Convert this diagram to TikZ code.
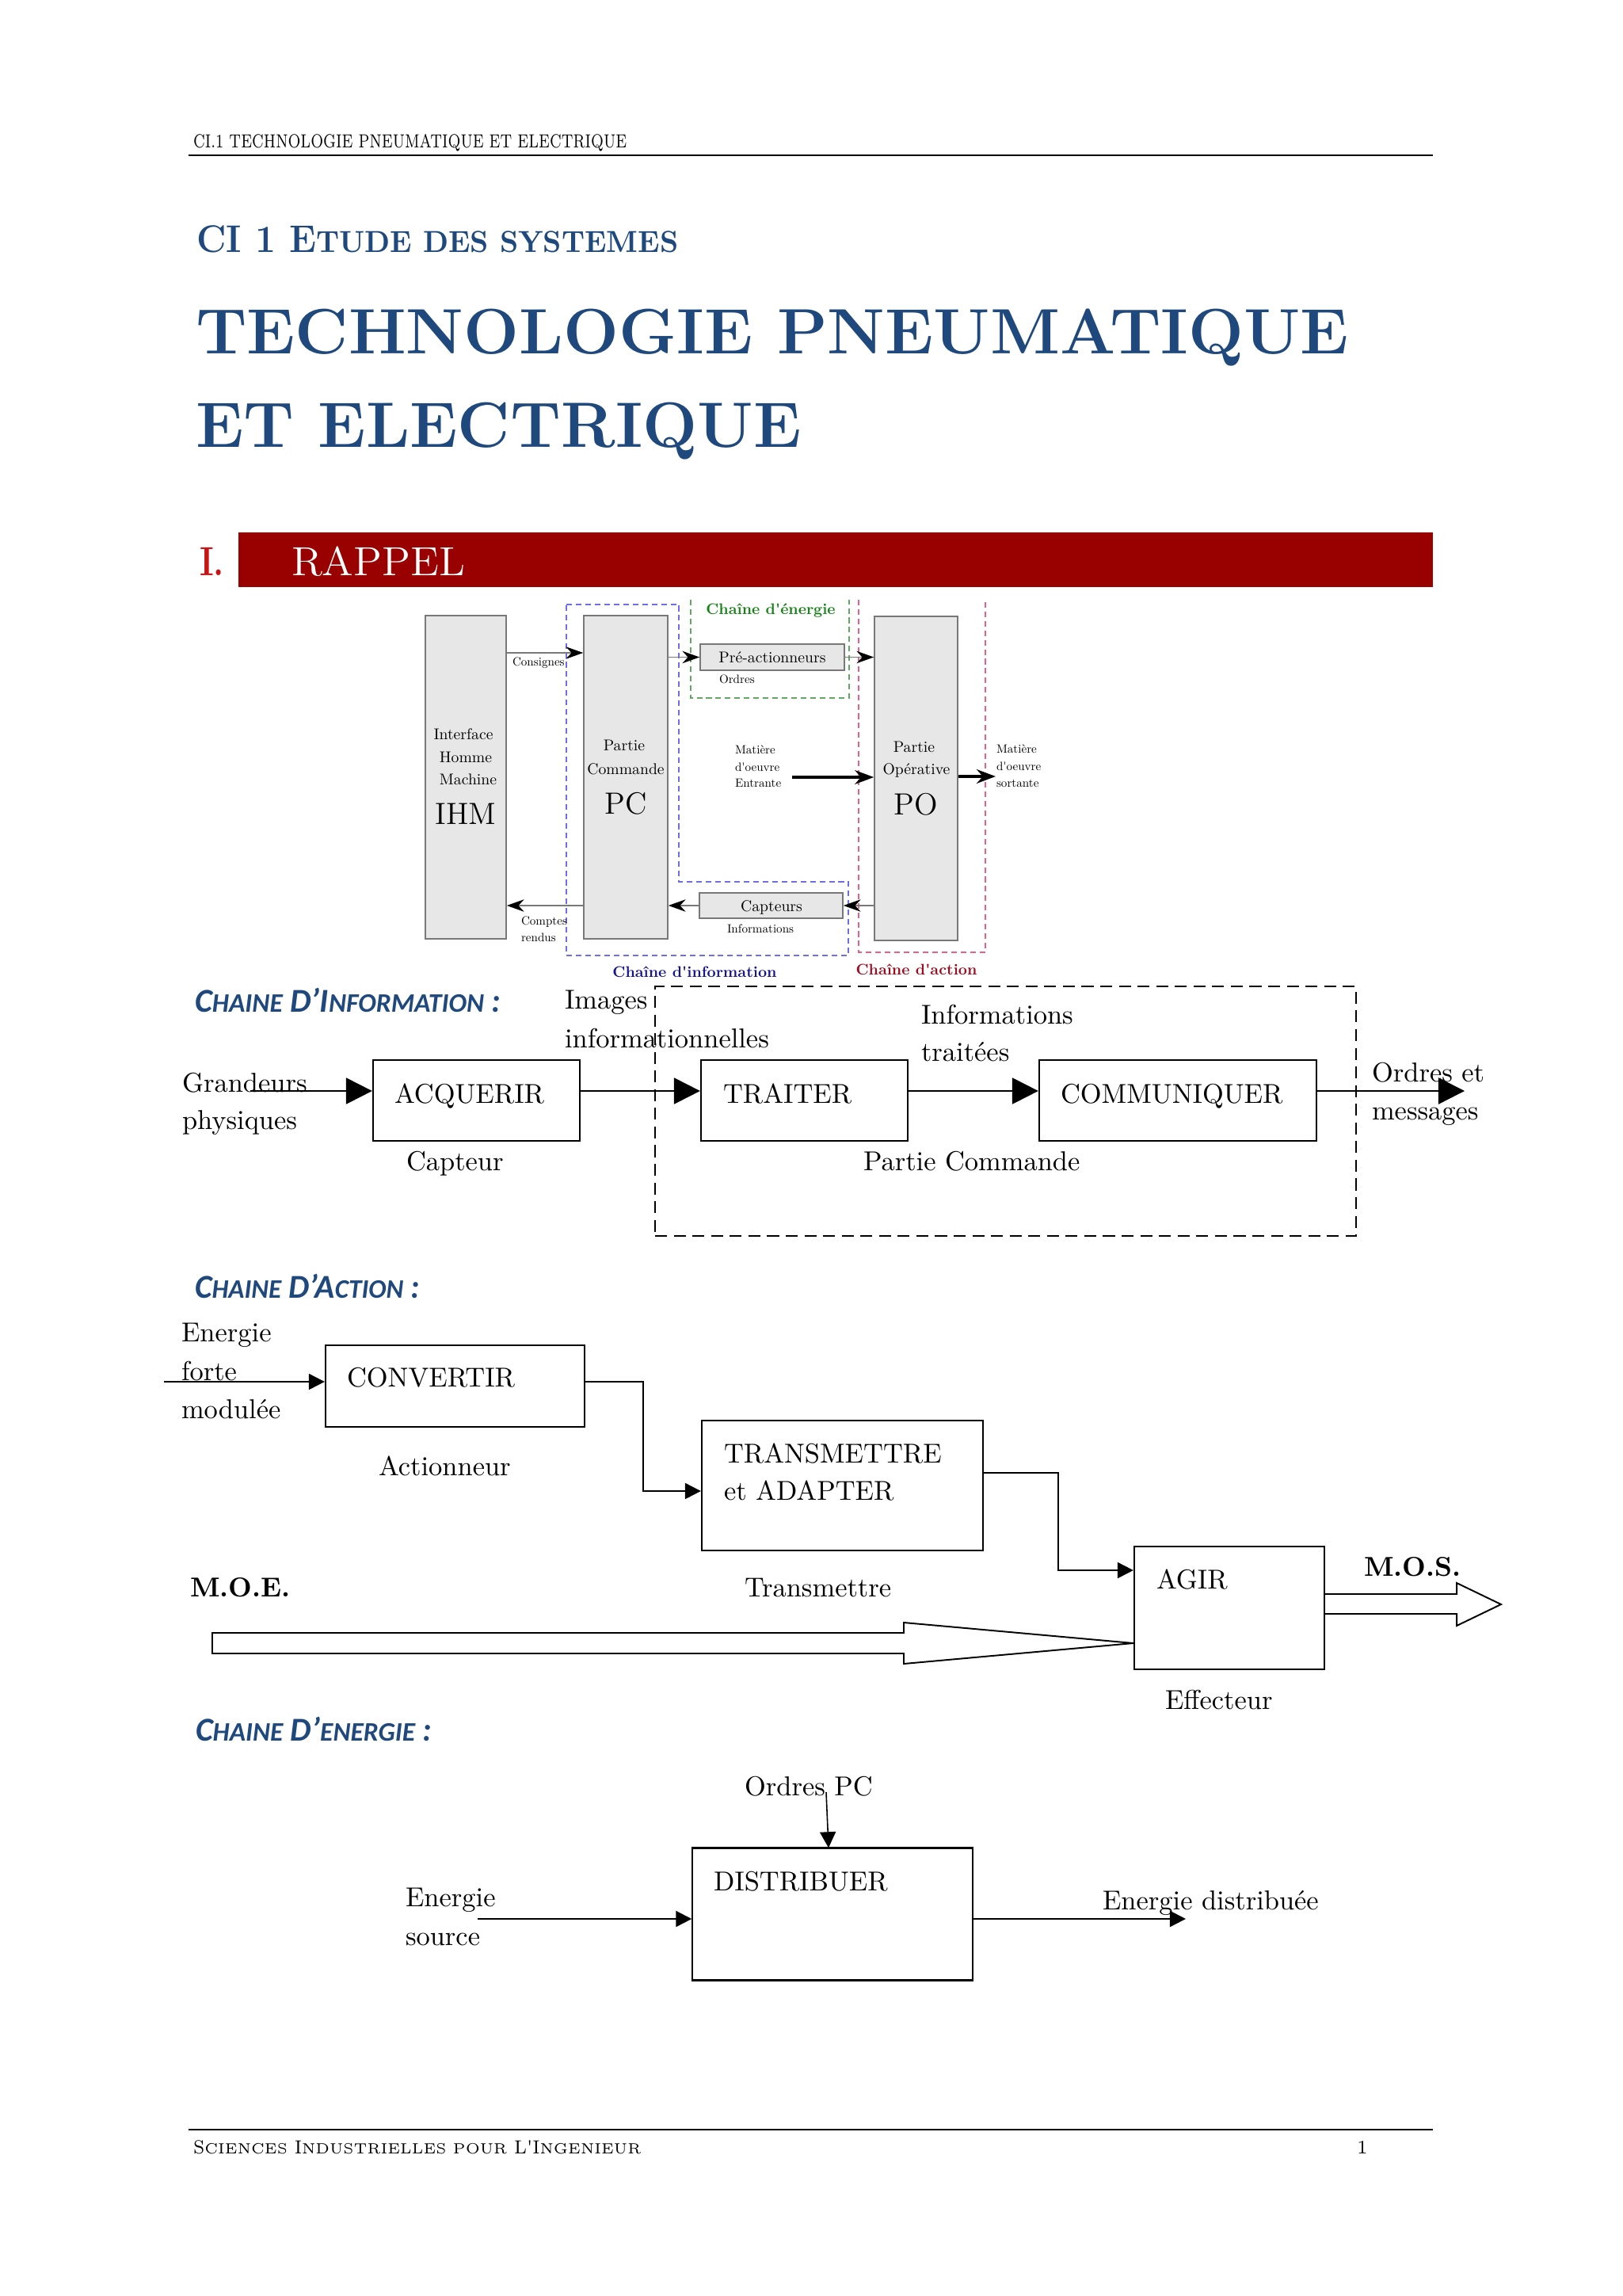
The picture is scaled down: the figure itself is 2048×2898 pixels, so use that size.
\documentclass[tikz,border=0pt]{standalone}
\usepackage{fontspec}
\newfontfamily\carlito{Carlito}
\usetikzlibrary{arrows.meta,fit,calc}
\definecolor{tblue}{RGB}{31,73,125}
\definecolor{barred}{RGB}{153,0,0}
\definecolor{numred}{RGB}{200,20,20}
\definecolor{boxgray}{RGB}{231,231,231}
\definecolor{edgegray}{RGB}{120,120,120}
\definecolor{dblue}{RGB}{110,110,235}
\definecolor{dgreen}{RGB}{95,170,95}
\definecolor{dpink}{RGB}{235,95,135}
\definecolor{capblue}{RGB}{20,20,140}
\definecolor{capgreen}{RGB}{20,130,20}
\definecolor{capred}{RGB}{160,10,30}
\newcommand\smA[1]{{\fontsize{9.6}{10}\selectfont #1}}
\newcommand\smT[1]{{\fontsize{10.9}{12}\selectfont #1}}
\newcommand\smF[1]{{\fontsize{5.3}{6}\selectfont #1}}
\newcommand\bt{\fontsize{9.8}{12}\selectfont}
\newcommand\sm[1]{\scalebox{0.56}{#1}}
\newcommand\ti[1]{\scalebox{0.43}{#1}}
\newcommand\cc[1]{\scalebox{0.55}{#1}}
\newcommand\q{\textquotesingle}
\begin{document}
\begin{tikzpicture}[x=0.01cm,y=-0.01cm,
  txt/.style={inner sep=0,outer sep=0,anchor=base west,font=\bt},
  gbox/.style={draw=edgegray,fill=boxgray,line width=0.45pt,inner sep=0},
  blk/.style={draw,line width=0.65pt,inner sep=0},
  dsh/.style={line width=0.35pt,dash pattern=on 2pt off 1.4pt},
  garr/.style={draw=edgegray,line width=0.45pt,-{Stealth[length=6.2pt,width=4.4pt,color=black]}},
  tarr/.style={line width=1.3pt,-{Stealth[length=6.8pt,width=5pt]}},
  bigarr/.style={line width=0.65pt,-{Triangle[length=9.4pt,width=9.4pt]}},
  arr/.style={line width=0.6pt,-{Triangle[length=5.7pt,width=5.7pt]}},
  head/.style={inner sep=0,outer sep=0,anchor=base west,text=tblue,font=\carlito\bfseries\itshape\fontsize{12}{14}\selectfont},
  tiny/.style={inner sep=0,outer sep=0,anchor=base west,font=\fontsize{10}{12}\selectfont},
  small/.style={inner sep=0,outer sep=0,anchor=base,font=\fontsize{10}{12}\selectfont},
  big/.style={inner sep=0,outer sep=0,anchor=base,font=\fontsize{11}{13}\selectfont},
  chcap/.style={inner sep=0,outer sep=0,anchor=base,font=\fontsize{10}{12}\selectfont\bfseries}
]
\path[use as bounding box,fill=white] (0,0) rectangle (2048,2898);

% ---------- header ----------
\node[txt,font=\fontsize{6.8}{8}\selectfont] (hdr) at (244,187) {\resizebox{5.47cm}{\height}{CI.1 TECHNOLOGIE PNEUMATIQUE ET ELECTRIQUE}};
\draw[line width=0.8pt] (238,196) -- (1809,196);

% ---------- titles ----------
\node[txt,text=tblue,font=\fontsize{13.8}{16}\selectfont\bfseries] (ci) at (248,319) {\resizebox{6.08cm}{\height}{CI 1 E\smT{TUDE DES SYSTEMES}}};
\node[txt,text=tblue,font=\fontsize{23}{26}\selectfont\bfseries] (t1) at (247,447) {\resizebox{14.55cm}{\height}{TECHNOLOGIE PNEUMATIQUE}};
\node[txt,text=tblue,font=\fontsize{23}{26}\selectfont\bfseries] (t2) at (247,565) {\resizebox{7.64cm}{\height}{ET ELECTRIQUE}};

% ---------- section bar ----------
\node[fill=barred,inner sep=0,fit={(301,672) (1809,741)}] (bar) {};
\node[txt,text=numred,font=\fontsize{14.6}{16}\selectfont\bfseries] (num) at (252,727) {\resizebox{0.31cm}{\height}{I.}};
\node[txt,text=white,font=\fontsize{14.6}{16}\selectfont] (rap) at (368,727) {\resizebox{2.19cm}{\height}{RAPPEL}};

% ---------- top diagram ----------
\draw[dblue,dsh] (715,763) -- (857,763) -- (857,1113) -- (1071,1113) -- (1071,1206) -- (715,1206) -- cycle;
\draw[dgreen,dsh] (872,757) -- (872,881) -- (1072,881) -- (1072,757);
\draw[dpink,dsh] (1084,757) -- (1084,1202) -- (1244,1202) -- (1244,757);

\node[gbox,fit={(537,777) (639,1185)}] (ihm) {};
\node[gbox,fit={(737,777) (843,1185)}] (pc) {};
\node[gbox,fit={(1104,778) (1209,1187)}] (po) {};
\node[gbox,fit={(884,813) (1066,846)}] (pre) {};
\node[gbox,fit={(883,1127) (1064,1159)}] (cap) {};

\draw[garr] (ihm.east |- 0,824) -- (pc.west |- 0,824);
\draw[garr] (pc.east |- pre.west) -- (pre.west);
\draw[garr] (pre.east) -- (po.west |- pre.east);
\draw[garr] (po.west |- cap.east) -- (cap.east);
\draw[garr] (cap.west) -- (pc.east |- cap.west);
\draw[garr] (pc.west |- cap.west) -- (ihm.east |- cap.west);
\coordinate (mein) at (1000,981);
\coordinate (meout) at (1257,980);
\draw[tarr] (mein) -- (po.west |- mein);
\draw[tarr] (po.east |- meout) -- (meout);

\node[small] (ihm1) at (585,933) {\sm{Interface}};
\node[small] (ihm2) at (588,962) {\sm{Homme}};
\node[small] (ihm3) at (591,990) {\sm{Machine}};
\node[big] (ihm4) at (588,1040) {IHM};
\node[small] (pc1) at (788,948) {\sm{Partie}};
\node[small] (pc2) at (790,977) {\sm{Commande}};
\node[big] (pc3) at (790,1027) {PC};
\node[small] (po1) at (1154,949) {\sm{Partie}};
\node[small] (po2) at (1157,977) {\sm{Opérative}};
\node[big] (po3) at (1156,1028) {PO};
\node[small] (pre1) at (975,837) {\sm{Pré-actionneurs}};
\node[small] (cap1) at (974,1150) {\sm{Capteurs}};
\node[tiny] (ord) at (908,863) {\ti{Ordres}};
\node[tiny] (inf) at (918,1177) {\ti{Informations}};
\node[tiny] (cons) at (647,841) {\ti{Consignes}};
\node[tiny] (cr1) at (658,1167) {\ti{Comptes}};
\node[tiny] (cr2) at (658,1188) {\ti{rendus}};
\node[tiny] (mi1) at (928,952) {\ti{Matière}};
\node[tiny] (mi2) at (928,973) {\ti{d\q oeuvre}};
\node[tiny] (mi3) at (928,994) {\ti{Entrante}};
\node[tiny] (mo1) at (1258,950) {\ti{Matière}};
\node[tiny] (mo2) at (1258,972) {\ti{d\q oeuvre}};
\node[tiny] (mo3) at (1258,993) {\ti{sortante}};
\node[chcap,text=capgreen] (ce) at (973,776) {\cc{Chaîne d\q énergie}};
\node[chcap,text=capblue] (ci2) at (877,1233) {\cc{Chaîne d\q information}};
\node[chcap,text=capred] (ca) at (1157,1230) {\cc{Chaîne d\q action}};

% ---------- chaine d'information ----------
\node[head] (h1) at (246,1277) {\resizebox{3.86cm}{\height}{C\smA{HAINE} D’I\smA{NFORMATION} :}};
\node[draw,line width=0.65pt,dash pattern=on 4.3pt off 2.4pt,inner sep=0,fit={(827,1245) (1712,1560)}] (pcbox) {};
\node[blk,fit={(471,1338) (732,1440)}] (acq) {};
\node[blk,fit={(885,1338) (1146,1440)}] (tra) {};
\node[blk,fit={(1312,1338) (1662,1440)}] (com) {};
\coordinate (gin) at (316,1377);
\coordinate (gout) at (1849,1377);
\draw[bigarr] (gin) -- (acq.west |- gin);
\draw[bigarr] (acq.east |- gin) -- (tra.west |- gin);
\draw[bigarr] (tra.east |- gin) -- (com.west |- gin);
\draw[bigarr] (com.east |- gin) -- (gout);
\node[txt] (acqt) at (498,1392) {ACQUERIR};
\node[txt] (trat) at (913,1392) {TRAITER};
\node[txt] (comt) at (1339,1392) {COMMUNIQUER};
\node[txt] (gr1) at (230,1378) {Grandeurs};
\node[txt] (gr2) at (230,1425) {physiques};
\node[txt] (capt) at (513,1477) {Capteur};
\node[txt] (im1) at (713,1273) {Images};
\node[txt] (im2) at (713,1322) {informationnelles};
\node[txt] (it1) at (1163,1292) {Informations};
\node[txt] (it2) at (1163,1339) {traitées};
\node[txt] (pcom) at (1090,1477) {Partie Commande};
\node[txt] (om1) at (1732,1365) {Ordres et};
\node[txt] (om2) at (1732,1413) {messages};

% ---------- chaine d'action ----------
\node[head] (h2) at (246,1638) {\resizebox{2.84cm}{\height}{C\smA{HAINE} D’A\smA{CTION} :}};
\node[txt] (ef1) at (229,1693) {Energie};
\node[txt] (ef2) at (229,1742) {forte};
\node[txt] (ef3) at (229,1790) {modulée};
\node[blk,fit={(411,1698) (738,1801)}] (conv) {};
\node[blk,fit={(886,1793) (1241,1957)}] (trans) {};
\node[blk,fit={(1432,1952) (1672,2107)}] (agir) {};
\coordinate (ein) at (207,1744);
\draw[arr] (ein) -- (conv.west |- ein);
\draw[arr] (conv.east |- ein) -- (812,1744) |- (trans.west |- 0,1882);
\draw[arr] (trans.east |- 0,1859) -- (1336,1859) |- (agir.west |- 0,1982);
\node[txt] (convt) at (438,1750) {CONVERTIR};
\node[txt] (act) at (478,1862) {Actionneur};
\node[txt] (tr1) at (914,1846) {TRANSMETTRE};
\node[txt] (tr2) at (914,1893) {et ADAPTER};
\node[txt] (trl) at (940,2015) {Transmettre};
\node[txt] (agt) at (1460,2005) {AGIR};
\node[txt] (eff) at (1471,2157) {Effecteur};
\node[txt,font=\bt\bfseries] (moe) at (240,2015) {M.O.E.};
\node[txt,font=\bt\bfseries] (mos) at (1722,1989) {M.O.S.};
\draw[line width=0.55pt] (268,2061) -- (1141,2061) -- (1141,2048) -- (agir.west |- 0,2074) -- (1141,2100) -- (1141,2087) -- (268,2087) -- cycle;
\draw[line width=0.55pt] (agir.east |- 0,2012) -- (1839,2012) -- (1839,1998) -- (1895,2025) -- (1839,2052) -- (1839,2037) -- (agir.east |- 0,2037);

% ---------- chaine d'energie ----------
\node[head] (h3) at (247,2197) {\resizebox{2.98cm}{\height}{C\smA{HAINE} D’\smA{ENERGIE} :}};
\node[txt] (opc) at (940,2266) {Ordres PC};
\node[draw,line width=0.4pt,inner sep=0,fit={(874,2333) (1228,2499)}] (dist) {};
\draw[line width=1pt] (dist.north west) -- (dist.north east);
\draw[line width=1pt] (dist.south west) -- (dist.south east);
\coordinate (oin) at (1043,2262);
\draw[arr,line width=0.45pt] (oin) -- (dist.north -| 1046,0);
\node[txt] (distt) at (901,2386) {DISTRIBUER};
\node[txt] (es1) at (512,2406) {Energie};
\node[txt] (es2) at (512,2455) {source};
\coordinate (esrc) at (603,2422);
\coordinate (edist) at (1497,2422);
\draw[arr] (esrc) -- (dist.west |- esrc);
\draw[arr] (dist.east |- esrc) -- (edist);
\node[txt] (edt) at (1392,2410) {Energie distribuée};

% ---------- footer ----------
\draw[line width=0.8pt] (238,2688) -- (1809,2688);
\node[txt,font=\fontsize{6.8}{8}\selectfont] (ftr) at (244,2718) {\resizebox{5.65cm}{\height}{S\smF{CIENCES} I\smF{NDUSTRIELLES POUR} L\q I\smF{NGENIEUR}}};
\node[txt,font=\fontsize{6.8}{8}\selectfont] (pg) at (1713,2718) {1};
\end{tikzpicture}
\end{document}
